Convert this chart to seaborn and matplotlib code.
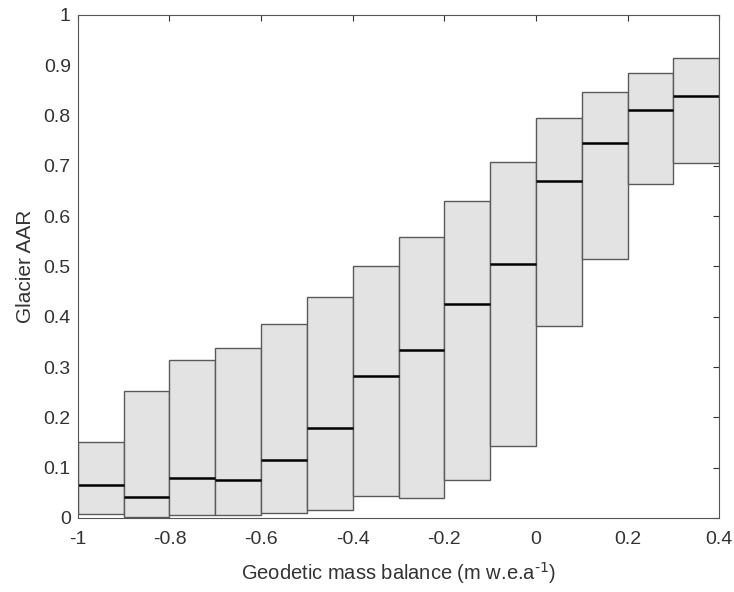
import numpy as np
import pandas as pd
import matplotlib
matplotlib.use("Agg")
import matplotlib.pyplot as plt
import seaborn as sns

# Data
bin_centers = [-0.95, -0.85, -0.75, -0.65, -0.55, -0.45, -0.35, -0.25, -0.15, -0.05, 0.05, 0.15, 0.25, 0.35]
lower = [0.007, 0.002, 0.005, 0.005, 0.010, 0.015, 0.043, 0.039, 0.076, 0.143, 0.382, 0.514, 0.663, 0.706]
median = [0.065, 0.041, 0.079, 0.075, 0.116, 0.179, 0.283, 0.333, 0.426, 0.504, 0.669, 0.745, 0.810, 0.838]
upper = [0.151, 0.253, 0.314, 0.338, 0.385, 0.440, 0.500, 0.558, 0.630, 0.708, 0.795, 0.846, 0.885, 0.914]
x_ticks = [-1, -0.8, -0.6, -0.4, -0.2, 0, 0.2, 0.4]
x_tick_labels = ["-1", "-0.8", "-0.6", "-0.4", "-0.2", "0", "0.2", "0.4"]
y_ticks = [0, 0.1, 0.2, 0.3, 0.4, 0.5, 0.6, 0.7, 0.8, 0.9, 1]
y_tick_labels = ["0", "0.1", "0.2", "0.3", "0.4", "0.5", "0.6", "0.7", "0.8", "0.9", "1"]

# Long-form table whose quartiles equal (lower, median, upper) for each bin
rows = []
for c, lo, me, up in zip(bin_centers, lower, median, upper):
    for v in (lo, lo, me, up, up):
        rows.append({"mb": round(c, 2), "aar": v})
df = pd.DataFrame(rows)

sns.set_style("white")
plt.rcParams["font.family"] = ["Liberation Sans", "DejaVu Sans"]
plt.rcParams["mathtext.default"] = "regular"
plt.rcParams["axes.unicode_minus"] = False

fig = plt.figure(figsize=(7.34, 5.92), dpi=100)
ax = fig.add_axes([0.106, 0.125, 0.874, 0.850])

sns.boxplot(data=df, x="mb", y="aar", native_scale=True, width=1.0,
            color="#e3e3e3", saturation=1, linecolor="#5a5a5a", linewidth=1.0,
            whis=0, showcaps=False, showfliers=False,
            whiskerprops={"visible": False},
            medianprops={"color": "black", "linewidth": 1.8},
            ax=ax)

ax.set_xlim(-1, 0.4)
ax.set_ylim(0, 1)
ax.set_xticks(x_ticks)
ax.set_xticklabels(x_tick_labels)
ax.set_yticks(y_ticks)
ax.set_yticklabels(y_tick_labels)
text_color = "#333333"
ax.tick_params(direction="in", top=True, right=True, length=4, width=0.8,
               labelsize=14, colors="#333333")
ax.tick_params(axis="x", pad=9)
ax.tick_params(axis="y", pad=5)
for s in ax.spines.values():
    s.set_visible(True)
    s.set_color("#555555")
    s.set_linewidth(0.8)

ax.set_xlabel(r"Geodetic mass balance (m w.e.a$^{\text{-1}}$)", fontsize=14.5, color=text_color, labelpad=9)
ax.set_ylabel("Glacier AAR", fontsize=15, color=text_color, labelpad=6)

fig.savefig("out.png", dpi=100)
